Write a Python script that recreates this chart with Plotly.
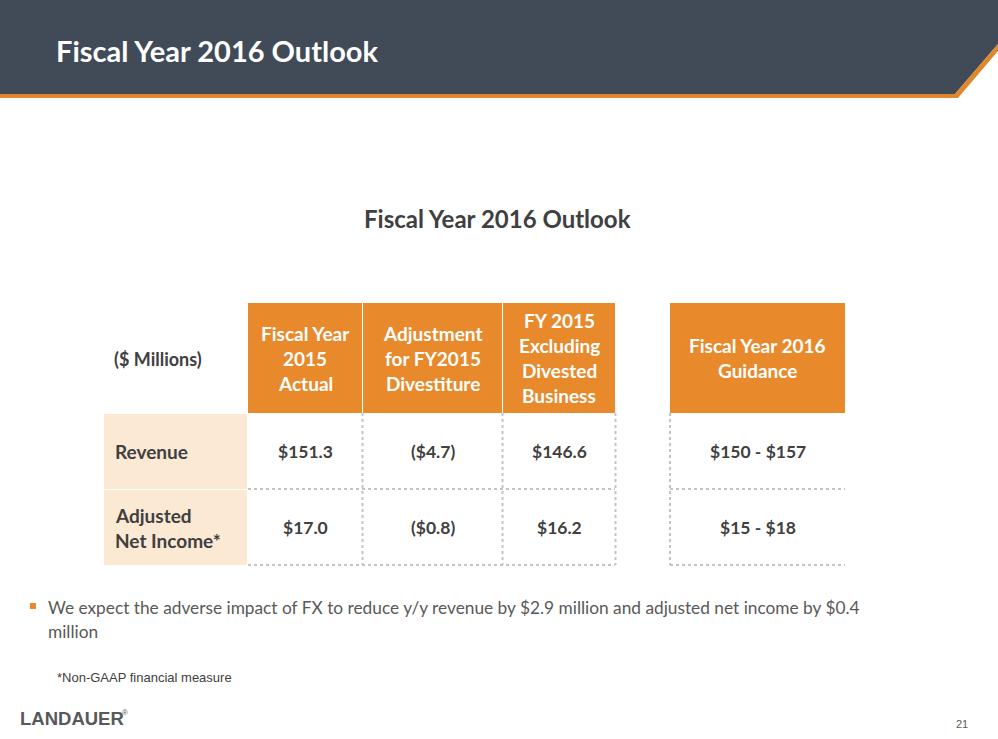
import plotly.graph_objects as go

# ---------------- data ----------------
page_title = "Fiscal Year 2016 Outlook"
table_title = "Fiscal Year 2016 Outlook"
unit_label = "($ Millions)"
header_labels = [
    ["Fiscal Year", "2015", "Actual"],
    ["Adjustment", "for FY2015", "Divestiture"],
    ["FY 2015", "Excluding", "Divested", "Business"],
    ["Fiscal Year 2016", "Guidance"],
]
row_labels = [["Revenue"], ["Adjusted", "Net Income*"]]
fy2015_actual = ["$151.3", "$17.0"]
adjustment = ["($4.7)", "($0.8)"]
fy2015_excl = ["$146.6", "$16.2"]
fy2016_guidance = ["$150 - $157", "$15 - $18"]
bullet_text = ["We expect the adverse impact of FX to reduce y/y revenue by $2.9 million and adjusted net income by $0.4",
               "million"]
footnote = "*Non-GAAP financial measure"
logo_text = "LANDAUER"
page_number = "21"

# ---------------- layout constants ----------------
W, H = 998, 739
DARK = "#414B57"
ORANGE = "#E8892B"
BEIGE = "#FBE9D4"
TXT = "#404040"
DOT = "#C4C4C4"
FONT = "Lato"

label_x = (104, 247)
col_x = [(248, 362), (363, 502), (503, 615), (670, 845)]
head_y = (303, 413)
row_y = [(414, 489), (490, 565)]

fig = go.Figure()
shapes = []
ann = []

# header band
shapes.append(dict(type="path", path="M0,0 L998,0 L998,44 L955,94 L0,94 Z",
                   fillcolor=DARK, line=dict(width=0), layer="below"))
shapes.append(dict(type="path", path="M0,94 L955,94 L998,44 L998,51 L958,98 L0,98 Z",
                   fillcolor="#E0862C", line=dict(width=0), layer="below"))
ann.append(dict(x=54, y=50, text="<b>%s</b>" % page_title, showarrow=False, xanchor="left", yanchor="middle",
                font=dict(family=FONT, size=29, color="white")))

# table title
ann.append(dict(x=497, y=218, text="<b>%s</b>" % table_title, showarrow=False, xanchor="center", yanchor="middle",
                font=dict(family=FONT, size=24, color=TXT)))

# unit label
ann.append(dict(x=112, y=359, text="<b>%s</b>" % unit_label, showarrow=False, xanchor="left", yanchor="middle",
                font=dict(family=FONT, size=18, color=TXT)))

# header cells
LINE_H = 25
for (x0, x1), lines in zip(col_x, header_labels):
    shapes.append(dict(type="rect", x0=x0, x1=x1, y0=head_y[0], y1=head_y[1],
                       fillcolor=ORANGE, line=dict(width=0), layer="below"))
    cy = (head_y[0] + head_y[1]) / 2
    n = len(lines)
    for i, t in enumerate(lines):
        yy = cy + (i - (n - 1) / 2) * LINE_H
        ann.append(dict(x=(x0 + x1) / 2, y=yy, text="<b>%s</b>" % t, showarrow=False,
                        xanchor="center", yanchor="middle",
                        font=dict(family=FONT, size=19, color="white")))

# row label cells
for (y0, y1), lines in zip(row_y, row_labels):
    shapes.append(dict(type="rect", x0=label_x[0], x1=label_x[1], y0=y0, y1=y1,
                       fillcolor=BEIGE, line=dict(width=0), layer="below"))
    cy = (y0 + y1) / 2
    n = len(lines)
    for i, t in enumerate(lines):
        yy = cy + (i - (n - 1) / 2) * LINE_H
        ann.append(dict(x=113, y=yy, text="<b>%s</b>" % t, showarrow=False,
                        xanchor="left", yanchor="middle",
                        font=dict(family=FONT, size=19, color=TXT)))

# values
columns = [fy2015_actual, adjustment, fy2015_excl, fy2016_guidance]
for (x0, x1), vals in zip(col_x, columns):
    for (y0, y1), v in zip(row_y, vals):
        ann.append(dict(x=(x0 + x1) / 2, y=(y0 + y1) / 2, text="<b>%s</b>" % v, showarrow=False,
                        xanchor="center", yanchor="middle",
                        font=dict(family=FONT, size=17.5, color=TXT)))

# dotted grid lines
dot = dict(color=DOT, width=2, dash="dot")
for xv in [362.5, 502.5, 615.5, 670]:
    shapes.append(dict(type="line", x0=xv, x1=xv, y0=head_y[1], y1=row_y[-1][1], line=dot))
for yv in [row_y[0][1], row_y[1][1]]:
    shapes.append(dict(type="line", x0=col_x[0][0], x1=col_x[2][1], y0=yv, y1=yv, line=dot))
    shapes.append(dict(type="line", x0=col_x[3][0], x1=col_x[3][1], y0=yv, y1=yv, line=dot))

# bullet
shapes.append(dict(type="rect", x0=30, x1=36, y0=603, y1=609, fillcolor=ORANGE, line=dict(width=0)))
for i, t in enumerate(bullet_text):
    ann.append(dict(x=46, y=607 + i * 24, text=t, showarrow=False, xanchor="left", yanchor="middle",
                    font=dict(family=FONT, size=17.3, color="#595959")))

# footnote
ann.append(dict(x=55, y=677, text=footnote, showarrow=False, xanchor="left", yanchor="middle",
                font=dict(family="Liberation Sans", size=13, color=TXT)))

# logo
ann.append(dict(x=18, y=718, text="<b>%s</b>" % logo_text, showarrow=False, xanchor="left", yanchor="middle",
                font=dict(family="Liberation Sans", size=18.5, color="#58595B")))
ann.append(dict(x=120, y=712, text="®", showarrow=False, xanchor="left", yanchor="middle",
                font=dict(family="Liberation Sans", size=8, color="#58595B")))

# page number
ann.append(dict(x=962, y=724, text=page_number, showarrow=False, xanchor="center", yanchor="middle",
                font=dict(family="Liberation Sans", size=11, color="#595959")))

fig.update_layout(
    width=W, height=H, margin=dict(l=0, r=0, t=0, b=0),
    paper_bgcolor="white", plot_bgcolor="white",
    xaxis=dict(range=[0, W], visible=False, fixedrange=True),
    yaxis=dict(range=[H, 0], visible=False, fixedrange=True),
    shapes=shapes, annotations=ann, showlegend=False,
)
fig.write_html("out.html", config={"displayModeBar": False},
               post_script="document.body.style.margin='0';document.body.style.overflow='hidden';")
